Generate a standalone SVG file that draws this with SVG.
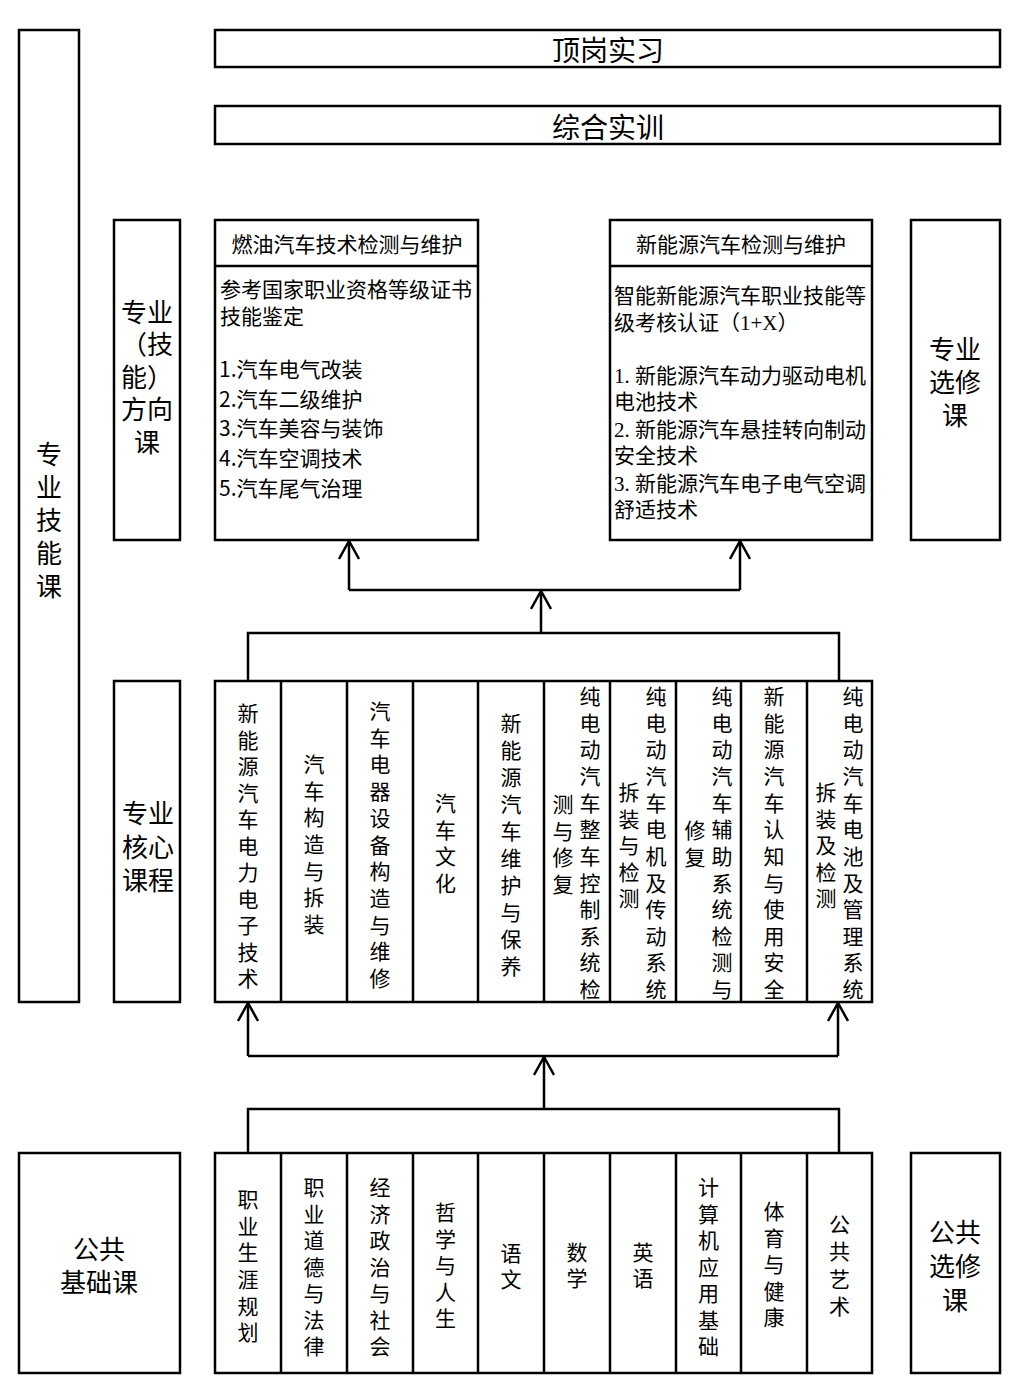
<svg xmlns="http://www.w3.org/2000/svg" width="1024" height="1392" viewBox="0 0 1024 1392">
<defs>
<style>
.box{fill:#fff;stroke:#000;stroke-width:2.5}
.ln{fill:none;stroke:#000;stroke-width:2.5}
.t{font-family:"Noto Sans CJK SC","Liberation Sans",sans-serif;fill:#000;dominant-baseline:central}
.s{font-family:"Liberation Serif","Noto Sans CJK SC",serif;fill:#000;dominant-baseline:central}
.v{font-family:"Noto Sans CJK SC",sans-serif;font-size:21px;fill:#000;text-anchor:middle;dominant-baseline:central}
.big{font-size:26px;text-anchor:middle}
.ban{font-size:28px;text-anchor:middle}
.mid{font-size:21px;text-anchor:middle}
.body{font-size:21px}
</style>
<marker id="arr" markerUnits="userSpaceOnUse" viewBox="-20 -11 22 22" refX="0" refY="0" markerWidth="22" markerHeight="22" orient="auto">
<path d="M-18,-10 L0,0 L-18,10" fill="none" stroke="#000" stroke-width="2.5"/>
</marker>
</defs>
<rect x="0" y="0" width="1024" height="1392" fill="#fff"/>

<g id="zhuanye-jineng-ke">
<rect class="box" x="19" y="30" width="60" height="972"/>
<text class="t big" x="49 49 49 49 49" y="452 485 518 551 584">专业技能课</text>
</g>

<g id="dinggang-shixi">
<rect class="box" x="215" y="30" width="785" height="37"/>
<text class="t ban" x="608" y="49">顶岗实习</text>
</g>

<g id="zonghe-shixun">
<rect class="box" x="215" y="106" width="785" height="38"/>
<text class="t ban" x="608" y="126">综合实训</text>
</g>

<g id="fangxiang-ke">
<rect class="box" x="114" y="220" width="66" height="320"/>
<text class="t big"><tspan x="147" y="310">专业</tspan><tspan x="147" y="342">（技</tspan><tspan x="147" y="375">能）</tspan><tspan x="147" y="407">方向</tspan><tspan x="147" y="440">课</tspan></text>
</g>

<g id="ranyou">
<rect class="box" x="215" y="220" width="263" height="320"/>
<line class="ln" x1="215" y1="266" x2="478" y2="266"/>
<text class="t mid" x="347" y="243">燃油汽车技术检测与维护</text>
<text class="t body"><tspan x="220" y="288">参考国家职业资格等级证书</tspan><tspan x="220" y="315">技能鉴定</tspan><tspan x="219" y="368">1.汽车电气改装</tspan><tspan x="219" y="398">2.汽车二级维护</tspan><tspan x="219" y="427">3.汽车美容与装饰</tspan><tspan x="219" y="457">4.汽车空调技术</tspan><tspan x="219" y="487">5.汽车尾气治理</tspan></text>
</g>

<g id="xinnengyuan">
<rect class="box" x="610" y="220" width="262" height="320"/>
<line class="ln" x1="610" y1="266" x2="872" y2="266"/>
<text class="t mid" x="741" y="243">新能源汽车检测与维护</text>
<text class="s body"><tspan x="614" y="296">智能新能源汽车职业技能等</tspan><tspan x="614" y="323">级考核认证（1+X）</tspan><tspan x="614" y="376">1. 新能源汽车动力驱动电机</tspan><tspan x="614" y="402">电池技术</tspan><tspan x="614" y="430">2. 新能源汽车悬挂转向制动</tspan><tspan x="614" y="456">安全技术</tspan><tspan x="614" y="484">3. 新能源汽车电子电气空调</tspan><tspan x="614" y="510">舒适技术</tspan></text>
</g>

<g id="zhuanye-xuanxiu">
<rect class="box" x="911" y="220" width="89" height="320"/>
<text class="t big"><tspan x="955" y="347">专业</tspan><tspan x="955" y="380">选修</tspan><tspan x="955" y="413">课</tspan></text>
</g>

<g id="hexin-label">
<rect class="box" x="114" y="681" width="66" height="321"/>
<text class="t big"><tspan x="148" y="811">专业</tspan><tspan x="148" y="845">核心</tspan><tspan x="148" y="878">课程</tspan></text>
</g>

<g id="hexin-courses">
<rect class="box" x="215" y="681" width="657" height="321"/>
<line class="ln" x1="281" y1="681" x2="281" y2="1002"/>
<line class="ln" x1="347" y1="681" x2="347" y2="1002"/>
<line class="ln" x1="413" y1="681" x2="413" y2="1002"/>
<line class="ln" x1="478" y1="681" x2="478" y2="1002"/>
<line class="ln" x1="544" y1="681" x2="544" y2="1002"/>
<line class="ln" x1="610" y1="681" x2="610" y2="1002"/>
<line class="ln" x1="676" y1="681" x2="676" y2="1002"/>
<line class="ln" x1="741" y1="681" x2="741" y2="1002"/>
<line class="ln" x1="807" y1="681" x2="807" y2="1002"/>
<text class="v" x="248 248 248 248 248 248 248 248 248 248 248" y="712 738.5 765 791.5 818 844.5 871 897.5 924 950.5 977">新能源汽车电力电子技术</text>
<text class="v" x="314 314 314 314 314 314 314" y="763 789.7 816.3 843 869.7 896.3 923">汽车构造与拆装</text>
<text class="v" x="380 380 380 380 380 380 380 380 380 380 380" y="710 736.7 763.4 790.1 816.8 843.5 870.2 896.9 923.6 950.3 977">汽车电器设备构造与维修</text>
<text class="v" x="445.5 445.5 445.5 445.5" y="802 828.7 855.3 882">汽车文化</text>
<text class="v" x="511 511 511 511 511 511 511 511 511 511" y="722 749 776 803 830 857 884 911 938 965">新能源汽车维护与保养</text>
<text class="v" x="590 590 590 590 590 590 590 590 590 590 590 590" y="695 721.6 748.3 774.9 801.5 828.2 854.8 881.5 908.1 934.7 961.4 988">纯电动汽车整车控制系统检</text>
<text class="v" x="563 563 563 563" y="803 829.7 856.3 883">测与修复</text>
<text class="v" x="656 656 656 656 656 656 656 656 656 656 656 656" y="695 721.6 748.3 774.9 801.5 828.2 854.8 881.5 908.1 934.7 961.4 988">纯电动汽车电机及传动系统</text>
<text class="v" x="629 629 629 629 629" y="791 817.5 844 870.5 897">拆装与检测</text>
<text class="v" x="722 722 722 722 722 722 722 722 722 722 722 722" y="695 721.6 748.3 774.9 801.5 828.2 854.8 881.5 908.1 934.7 961.4 988">纯电动汽车辅助系统检测与</text>
<text class="v" x="695 695" y="829 856">修复</text>
<text class="v" x="774 774 774 774 774 774 774 774 774 774 774 774" y="695 721.6 748.3 774.9 801.5 828.2 854.8 881.5 908.1 934.7 961.4 988">新能源汽车认知与使用安全</text>
<text class="v" x="853 853 853 853 853 853 853 853 853 853 853 853" y="695 721.6 748.3 774.9 801.5 828.2 854.8 881.5 908.1 934.7 961.4 988">纯电动汽车电池及管理系统</text>
<text class="v" x="826 826 826 826 826" y="791 817.5 844 870.5 897">拆装及检测</text>
</g>

<g id="gonggong-jichu">
<rect class="box" x="19" y="1153" width="161" height="220"/>
<text class="t big"><tspan x="99" y="1247">公共</tspan><tspan x="99" y="1280">基础课</tspan></text>
</g>

<g id="gonggong-courses">
<rect class="box" x="215" y="1153" width="657" height="220"/>
<line class="ln" x1="281" y1="1153" x2="281" y2="1373"/>
<line class="ln" x1="347" y1="1153" x2="347" y2="1373"/>
<line class="ln" x1="413" y1="1153" x2="413" y2="1373"/>
<line class="ln" x1="478" y1="1153" x2="478" y2="1373"/>
<line class="ln" x1="544" y1="1153" x2="544" y2="1373"/>
<line class="ln" x1="610" y1="1153" x2="610" y2="1373"/>
<line class="ln" x1="676" y1="1153" x2="676" y2="1373"/>
<line class="ln" x1="741" y1="1153" x2="741" y2="1373"/>
<line class="ln" x1="807" y1="1153" x2="807" y2="1373"/>
<text class="v" x="248 248 248 248 248 248" y="1198 1224.7 1251.3 1278 1304.7 1331.3">职业生涯规划</text>
<text class="v" x="314 314 314 314 314 314 314" y="1186 1212.5 1239 1265.5 1292 1318.5 1345">职业道德与法律</text>
<text class="v" x="380 380 380 380 380 380 380" y="1186 1212.5 1239 1265.5 1292 1318.5 1345">经济政治与社会</text>
<text class="v" x="445.5 445.5 445.5 445.5 445.5" y="1211 1237.5 1264 1290.5 1317">哲学与人生</text>
<text class="v" x="511 511" y="1252 1278">语文</text>
<text class="v" x="577 577" y="1251 1277">数学</text>
<text class="v" x="643 643" y="1251 1277">英语</text>
<text class="v" x="708.5 708.5 708.5 708.5 708.5 708.5 708.5" y="1186 1212.5 1239 1265.5 1292 1318.5 1345">计算机应用基础</text>
<text class="v" x="774 774 774 774 774" y="1210 1236.5 1263 1289.5 1316">体育与健康</text>
<text class="v" x="839.5 839.5 839.5 839.5" y="1223 1250.3 1277.7 1305">公共艺术</text>
</g>

<g id="gonggong-xuanxiu">
<rect class="box" x="911" y="1153" width="89" height="220"/>
<text class="t big"><tspan x="955" y="1230">公共</tspan><tspan x="955" y="1264">选修</tspan><tspan x="955" y="1298">课</tspan></text>
</g>

<g id="connectors">
<polyline class="ln" points="248,681 248,633 839,633 839,681"/>
<line class="ln" x1="541" y1="633" x2="541" y2="591" marker-end="url(#arr)"/>
<line class="ln" x1="349" y1="590" x2="740" y2="590"/>
<line class="ln" x1="349" y1="590" x2="349" y2="541" marker-end="url(#arr)"/>
<line class="ln" x1="740" y1="590" x2="740" y2="541" marker-end="url(#arr)"/>
<polyline class="ln" points="248,1153 248,1109 839,1109 839,1153"/>
<line class="ln" x1="544" y1="1109" x2="544" y2="1057" marker-end="url(#arr)"/>
<line class="ln" x1="248" y1="1056" x2="838" y2="1056"/>
<line class="ln" x1="248" y1="1056" x2="248" y2="1003" marker-end="url(#arr)"/>
<line class="ln" x1="838" y1="1056" x2="838" y2="1003" marker-end="url(#arr)"/>
</g>
</svg>
